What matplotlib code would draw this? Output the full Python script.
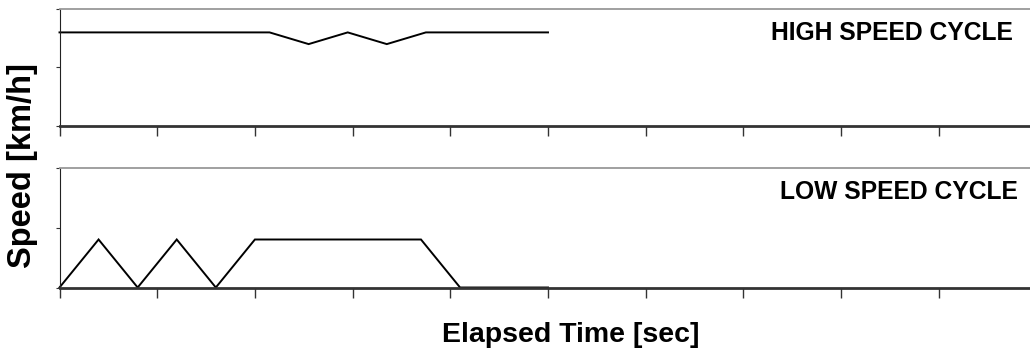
import matplotlib
matplotlib.use('Agg')
import matplotlib.pyplot as plt

# speed traces of the two driving cycles (time in sec, speed in km/h)
high_time = [0, 215, 255, 295, 335, 375, 500]
high_speed = [80, 80, 70, 80, 70, 80, 80]

low_time = [0, 40, 80, 120, 160, 200, 370, 410, 500]
low_speed = [0, 40, 0, 40, 0, 40, 40, 0, 0]

x_ticks = list(range(0, 1001, 100))
y_ticks = [0, 50, 100]

plt.rcParams['font.family'] = ['Liberation Sans', 'DejaVu Sans']

fig = plt.figure(figsize=(10.30, 3.49), dpi=100)
W, H = 1030.0, 349.0


def panel(px_left, px_top, px_right, px_bottom):
    return fig.add_axes([px_left / W, 1 - px_bottom / H,
                         (px_right - px_left) / W, (px_bottom - px_top) / H])


ax_high = panel(59.5, 9, 1036.5, 126)
ax_low = panel(59.5, 167.5, 1036.5, 287.5)

for ax, t, v in [(ax_high, high_time, high_speed),
                 (ax_low, low_time, low_speed)]:
    ax.plot(t, v, color='black', lw=1.4, solid_joinstyle='miter', clip_on=False)
    ax.set_xlim(0, 1000)
    ax.set_ylim(0, 100)
    ax.set_xticks(x_ticks)
    ax.set_yticks(y_ticks)
    ax.set_xticklabels([])
    ax.set_yticklabels([])
    ax.tick_params(axis='x', direction='out', length=7, width=1, color='#333333')
    ax.tick_params(axis='y', direction='out', length=3, width=0.8, color='#333333')
    ax.spines['right'].set_visible(False)
    ax.spines['top'].set_color('#999999')
    ax.spines['top'].set_linewidth(1.3)
    ax.spines['bottom'].set_color('#333333')
    ax.spines['bottom'].set_linewidth(2.0)
    ax.spines['left'].set_color('#222222')
    ax.spines['left'].set_linewidth(0.8)
    ax.patch.set_alpha(0)

fig.text(1013 / W, 1 - 40 / H, 'HIGH SPEED CYCLE', ha='right', va='baseline',
         fontsize=17.7, fontweight='bold')
fig.text(1018 / W, 1 - 199 / H, 'LOW SPEED CYCLE', ha='right', va='baseline',
         fontsize=17.7, fontweight='bold')

fig.text(23 / W, 1 - 165 / H, 'Speed [km/h]', rotation=90, ha='center', va='center',
         fontsize=23.5, fontweight='bold')
fig.text(442.5 / W, 1 - 342.5 / H, 'Elapsed Time [sec]', ha='left', va='baseline',
         fontsize=20.5, fontweight='bold')

fig.savefig('out.png', dpi=100)
